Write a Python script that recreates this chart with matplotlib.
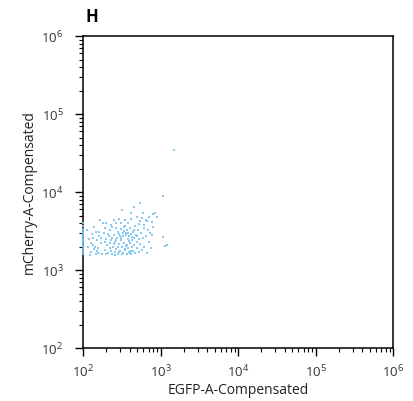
import numpy as np
import matplotlib
matplotlib.use('Agg')
import matplotlib.pyplot as plt
from matplotlib.ticker import LogLocator, NullFormatter

plt.rcParams['font.family'] = ['Open Sans', 'DejaVu Sans']

# EGFP vs mCherry events
egfp = [
    100, 100, 100, 100, 100, 100, 100, 100, 100, 100, 100, 100, 100, 100, 100, 100, 100, 100,
    112, 118, 125, 130, 135, 140, 145, 150, 155, 160, 115, 122, 128, 138, 148, 158, 133, 143, 152,
    165, 170, 175, 180, 185, 190, 195, 200, 205, 210, 215, 220, 225, 230, 235, 240, 245, 250, 255,
    260, 265, 270, 275, 280, 285, 290, 295, 300, 305, 310, 315, 320, 325, 330, 335, 340, 345, 350,
    355, 360, 365, 370, 375, 380, 385, 390, 395, 400, 405, 410, 415, 420, 425, 430, 440, 445, 450,
    455, 460, 470, 475, 480, 490, 495, 500, 510, 520, 530, 540, 545, 550, 560, 575, 590, 600, 610,
    620, 640, 650, 660, 680, 700, 720, 735, 750, 780, 800, 810, 840, 890, 780, 1070, 1210, 1140,
    1070, 1480,
    190, 210, 230, 250, 270, 290, 310, 330, 350, 370, 390, 410, 430, 200, 240, 280, 320, 360, 400,
    260, 300, 340, 380, 220, 170, 160, 190, 230, 270, 310, 290, 250, 350, 420, 460, 500, 530, 570,
    620, 660,
]
mcherry = [
    3970, 3700, 3400, 3200, 3000, 2800, 2650, 2500, 2350, 2200, 2050, 1900, 1800, 1700, 1600, 2950, 2450, 2100,
    3300, 2500, 1700, 2900, 2100, 3600, 1600, 2400, 1900, 2700, 2000, 1580, 2250, 1850, 3100, 1650, 2600, 2000, 1750,
    4380, 2200, 1600, 3970, 2950, 1800, 2500, 3970, 2100, 1650, 2700, 3260, 1900, 2400, 1600, 3600, 2000, 2800, 1700,
    2300, 3970, 1850, 2600, 3100, 1600, 2150, 2900, 1750, 3400, 2450, 1950, 5880, 2700, 1650, 3600, 2250, 1800, 4380,
    2950, 2050, 1600, 3260, 2500, 1900, 4000, 2700, 1700, 2200, 3500, 2900, 1600, 5330, 2400, 2000, 3100, 1750, 6490,
    2600, 2100, 3700, 1650, 2800, 4830, 2300, 1900, 3300, 2500, 1700, 7160, 4200, 2150, 3000, 1800, 2600, 5330, 3500,
    2000, 4380, 2700, 1650, 3260, 2300, 4800, 2950, 1900, 4100, 5200, 3600, 5430, 4820, 2840, 2670, 2110, 2030,
    8900, 34600,
    2300, 2900, 1750, 2150, 2450, 1700, 2600, 2950, 1850, 2100, 2350, 1750, 2650, 1600, 2600, 2000, 1600, 2800, 1650,
    1580, 2700, 3200, 3000, 2200, 2600, 3100, 3500, 3800, 3500, 4000, 4500, 4400, 3700, 4500, 3300, 2700, 3900, 4600,
    3800, 4200,
]

fig = plt.figure(figsize=(4.13, 4.01), dpi=100)
ax = fig.add_axes([0.201, 0.132, 0.751, 0.778])

ax.scatter(egfp, mcherry, s=2.4, marker='s', c='#72c2f2', linewidths=0, alpha=0.85,
           clip_on=False, zorder=3)

ax.set_xscale('log')
ax.set_yscale('log')
ax.set_xlim(1e2, 1e6)
ax.set_ylim(1e2, 1e6)

for axis in (ax.xaxis, ax.yaxis):
    axis.set_major_locator(LogLocator(base=10, numticks=10))
    axis.set_minor_locator(LogLocator(base=10, subs=np.arange(2, 10), numticks=20))
    axis.set_minor_formatter(NullFormatter())

ax.tick_params(which='major', direction='out', length=6, width=1, labelsize=9.5,
               labelcolor='#333333', top=False, right=False)
ax.tick_params(axis='y', which='major', pad=8)
ax.tick_params(axis='x', which='major', pad=5)
ax.tick_params(which='minor', direction='out', length=3, width=0.8, top=False, right=False)
for sp in ax.spines.values():
    sp.set_linewidth(1.1)

ax.set_xlabel('EGFP-A-Compensated', fontsize=10, color='#222222', labelpad=2)
ax.set_ylabel('mCherry-A-Compensated', fontsize=10, color='#222222', labelpad=3)

fig.text(0.208, 0.958, 'H', fontsize=12, fontweight='bold', ha='left', va='center')

fig.savefig('out.png', dpi=100)
